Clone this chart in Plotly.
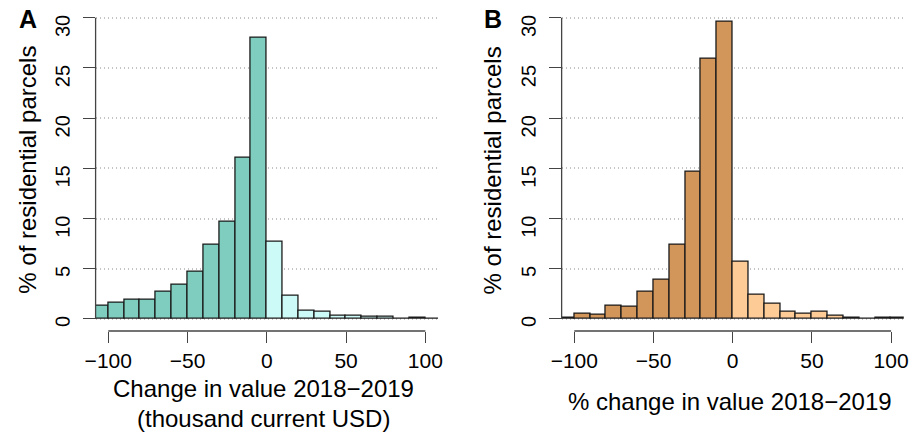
import plotly.graph_objects as go

# ---- data ----
bin_centers = [-105, -95, -85, -75, -65, -55, -45, -35, -25, -15, -5,
               5, 15, 25, 35, 45, 55, 65, 75, 85, 95, 105]
bin_width = 10

pct_a = [1.33, 1.66, 1.93, 1.93, 2.72, 3.46, 4.68, 7.44, 9.73, 16.1, 27.97,
         7.7, 2.33, 0.8, 0.7, 0.37, 0.37, 0.18, 0.18, 0.07, 0.1, 0.07]
pct_b = [0.08, 0.56, 0.47, 1.36, 1.26, 2.69, 3.95, 7.4, 14.7, 25.95, 29.63,
         5.7, 2.4, 1.5, 0.76, 0.56, 0.7, 0.33, 0.1, 0.07, 0.13, 0.13]

x_ticks = [-100, -50, 0, 50, 100]
y_ticks = [0, 5, 10, 15, 20, 25, 30]

ylab = "% of residential parcels"
xlab_a1 = "Change in value 2018\u22122019"
xlab_a2 = "(thousand current USD)"
xlab_b = "% change in value 2018\u22122019"

col_a_neg, col_a_pos = "#7ECDBF", "#CCFAF6"
col_b_neg, col_b_pos = "#D2955A", "#FDCB96"

FONT = "Liberation Sans, Arial, Helvetica, sans-serif"
W, H = 918, 438

def colors(neg, pos):
    return [neg if c < 0 else pos for c in bin_centers]

fig = go.Figure()
fig.add_trace(go.Bar(x=bin_centers, y=pct_a, width=bin_width,
                     marker=dict(color=colors(col_a_neg, col_a_pos),
                                 line=dict(color="#1a1a1a", width=1.3)),
                     xaxis="x", yaxis="y", showlegend=False, hoverinfo="x+y"))
fig.add_trace(go.Bar(x=bin_centers, y=pct_b, width=bin_width,
                     marker=dict(color=colors(col_b_neg, col_b_pos),
                                 line=dict(color="#1a1a1a", width=1.3)),
                     xaxis="x2", yaxis="y2", showlegend=False, hoverinfo="x+y"))

ydom = [1 - 331 / H, 1 - 5.7 / H]
xdom_a = [86.1 / W, 434.6 / W]
xdom_b = [560.4 / W, 908.6 / W]

xcommon = dict(range=[-108, 108], tickvals=x_ticks, ticks="outside", ticklen=11,
               tickwidth=1.3, tickcolor="#444", showline=False, showgrid=False,
               zeroline=False, tickfont=dict(family=FONT, size=21, color="black"),
               fixedrange=True)
ycommon = dict(range=[-1.2, 31.2], tickvals=y_ticks, ticks="outside", ticklen=12,
               tickwidth=1.3, tickcolor="#444", showline=False, showgrid=True,
               gridcolor="#c4c4c4", griddash="1.5px,2.5px", gridwidth=1.5, zeroline=False,
               tickangle=-89.9, ticklabelstandoff=19,
               tickfont=dict(family=FONT, size=20, color="black"), fixedrange=True)

fig.update_layout(
    width=W, height=H, margin=dict(l=0, r=0, t=0, b=0),
    paper_bgcolor="white", plot_bgcolor="white", bargap=0,
    xaxis=dict(domain=xdom_a, anchor="y", **xcommon),
    yaxis=dict(domain=ydom, anchor="x", **ycommon),
    xaxis2=dict(domain=xdom_b, anchor="y2", **xcommon),
    yaxis2=dict(domain=ydom, anchor="x2", **ycommon),
)

# axis lines spanning only the tick range (R style)
for xr, yr in (("x", "y"), ("x2", "y2")):
    fig.add_shape(type="line", xref=xr, yref=f"{yr} domain", x0=x_ticks[0], x1=x_ticks[-1],
                  y0=0, y1=0, line=dict(color="#444", width=1.3))
    fig.add_shape(type="line", xref=f"{xr} domain", yref=yr, x0=0, x1=0,
                  y0=y_ticks[0], y1=y_ticks[-1], line=dict(color="#444", width=1.3))

def ann(text, px, py, size=24, angle=0, bold=False):
    fig.add_annotation(text=f"<b>{text}</b>" if bold else text,
                       x=px / W, y=1 - py / H, xref="paper", yref="paper",
                       xanchor="center", yanchor="middle", showarrow=False,
                       textangle=angle, font=dict(family=FONT, size=size, color="black"))

ann(ylab, 17, 170, angle=-90)
ann(ylab, 491, 170, angle=-90)
ann("A", 17, 19, size=25, bold=True)
ann("B", 491, 19, size=25, bold=True)
ann(xlab_a1, 257, 388)
ann(xlab_a2, 257, 418)
ann(xlab_b, 732, 401)

fig.write_html("out.html")
